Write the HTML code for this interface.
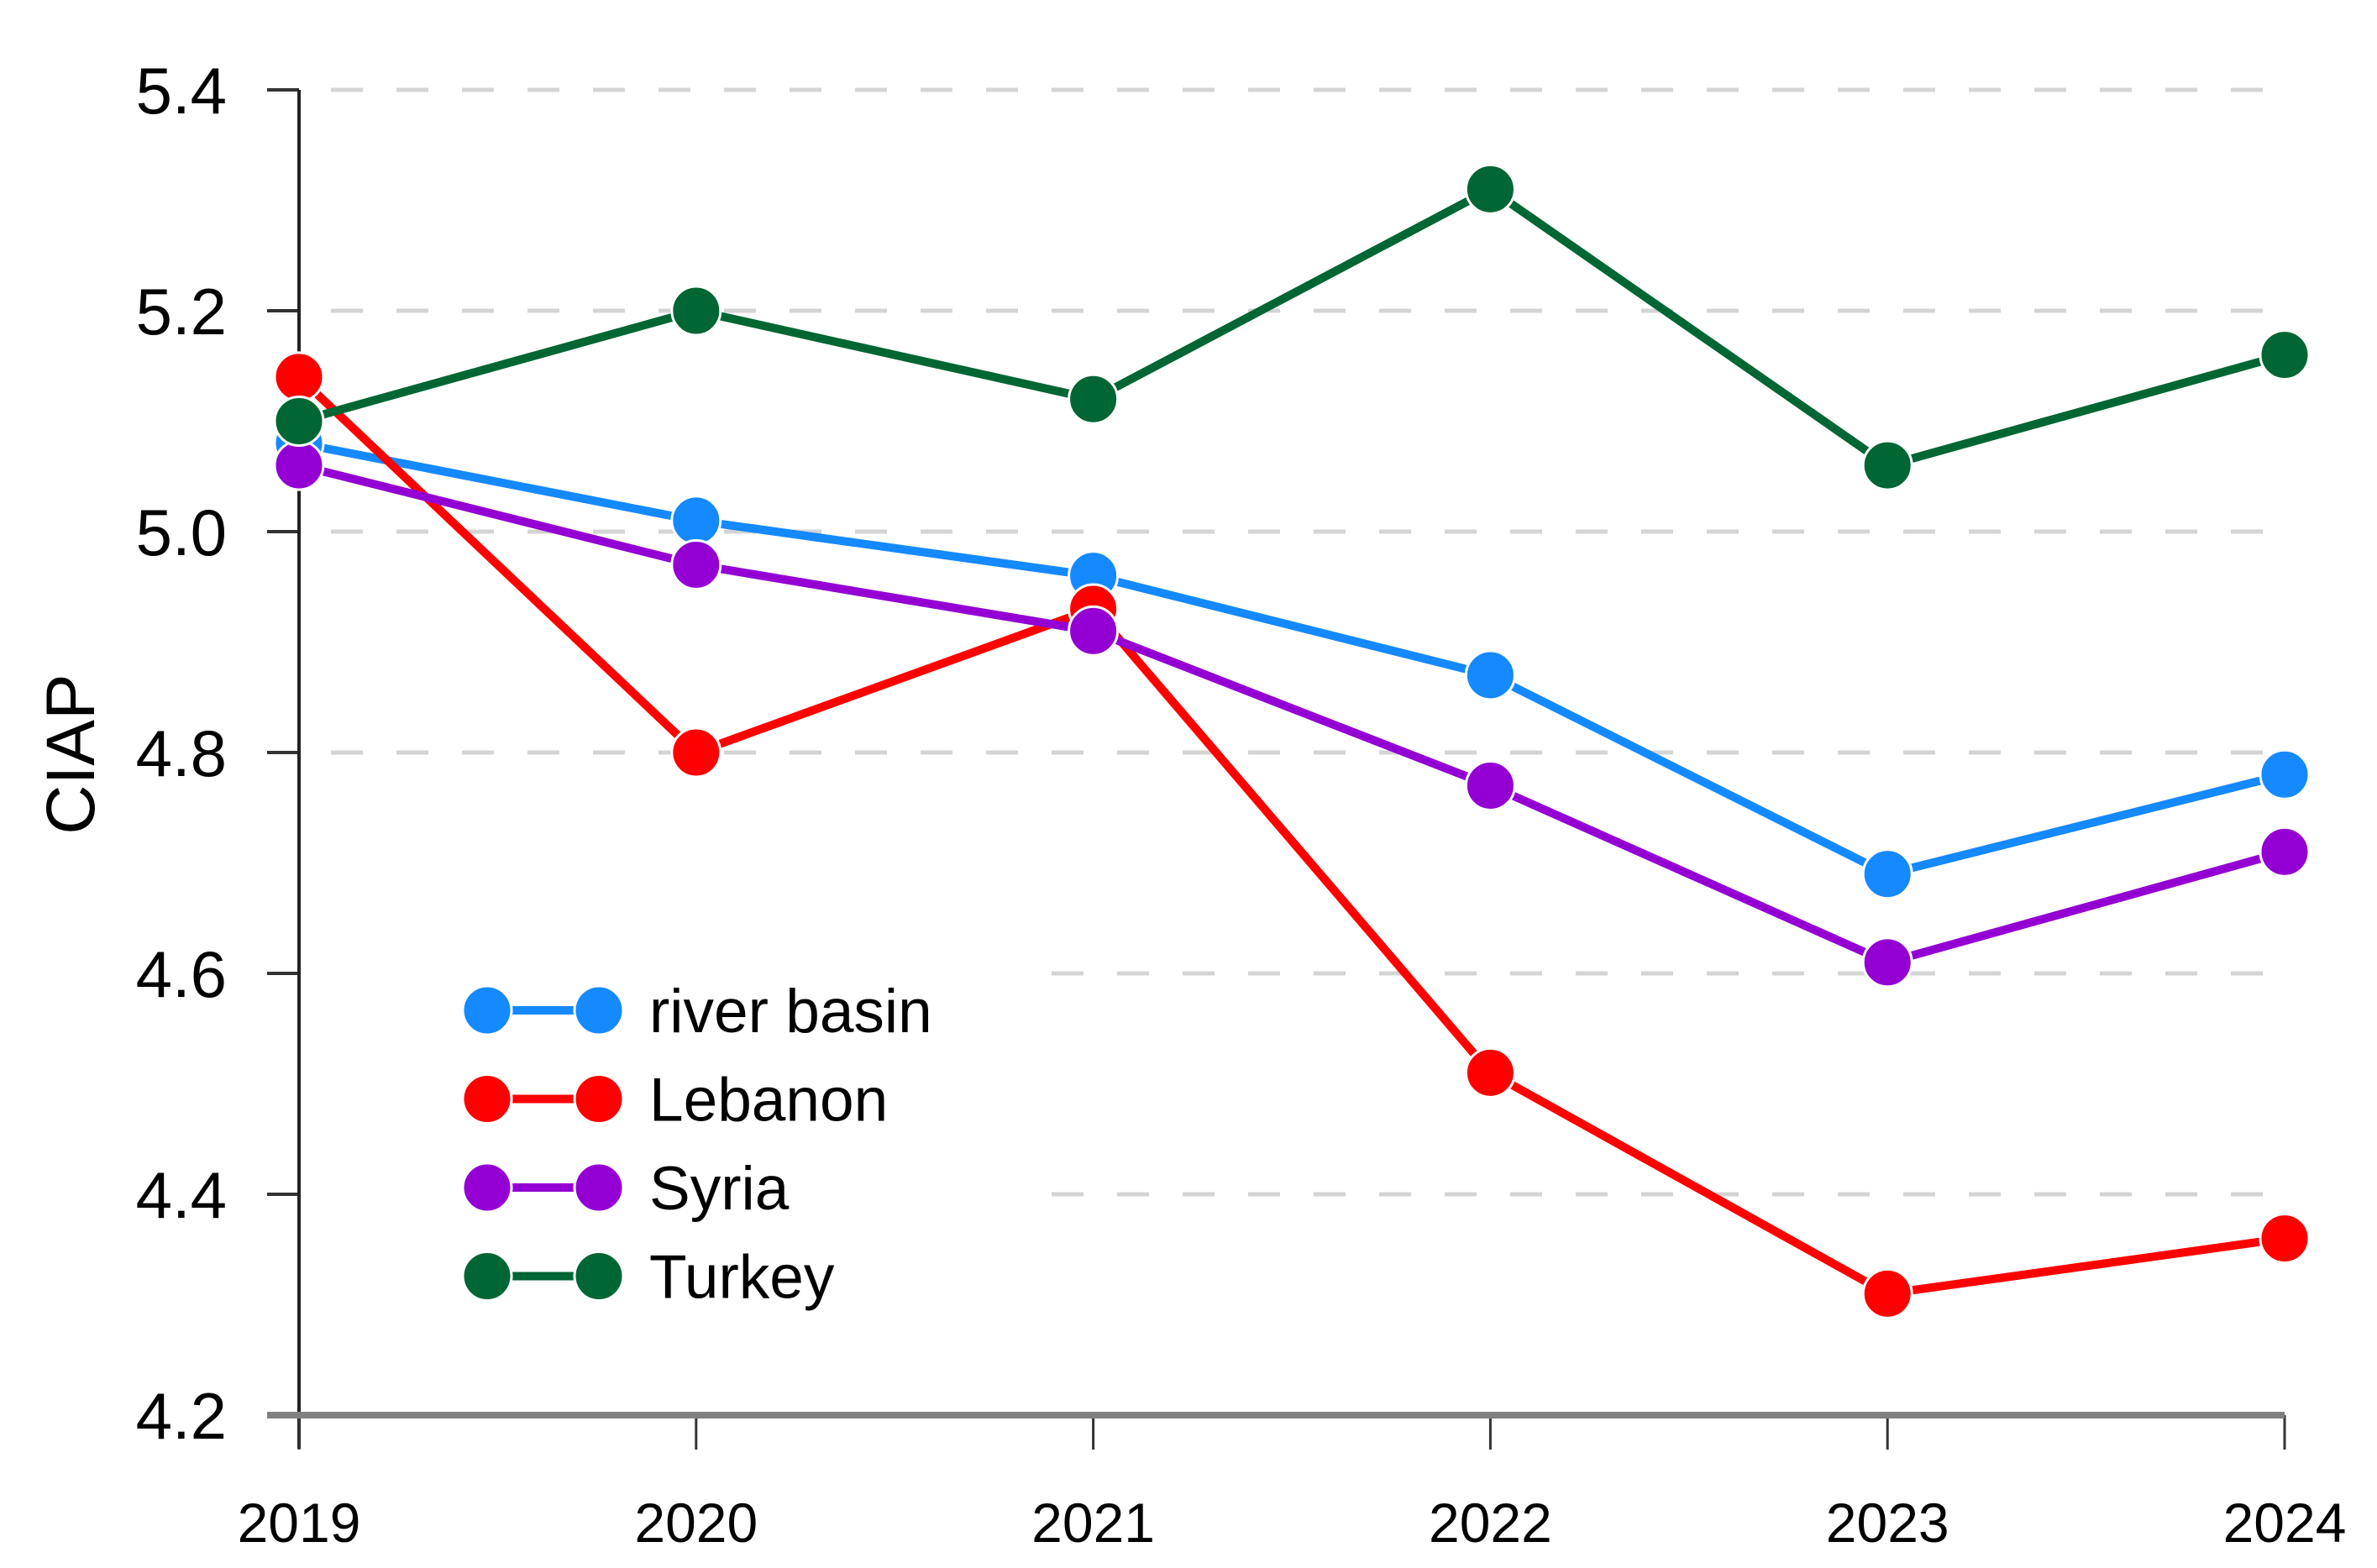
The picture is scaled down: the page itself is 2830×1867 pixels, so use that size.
<!DOCTYPE html>
<html><head><meta charset="utf-8"><style>
html,body{margin:0;padding:0;background:#fff;}
svg{display:block;font-family:"Liberation Sans",Arial,sans-serif;}
</style></head><body>
<svg id="chart" width="2830" height="1867" viewBox="0 0 2830 1867">
<g id="grid"></g>
<g id="axes"></g>
<g id="series"></g>
<g id="legend"></g>
<text x="0" y="0" transform="translate(112,898) rotate(-90)" text-anchor="middle" font-size="82" fill="#000">CIAP</text>
</svg>
<script>
const years = ["2019","2020","2021","2022","2023","2024"];
const yTicks = [4.2,4.4,4.6,4.8,5.0,5.2,5.4];
const seriesNames = ["river basin","Lebanon","Syria","Turkey"];
const seriesColors = ["#1589ff","#ff0000","#9400d3","#006633"];
const riverBasin = [5.08,5.01,4.96,4.87,4.69,4.78];
const lebanon = [5.14,4.80,4.93,4.51,4.31,4.36];
const syria = [5.06,4.97,4.91,4.77,4.61,4.71];
const turkey = [5.10,5.20,5.12,5.31,5.06,5.16];
const allSeries = [riverBasin,lebanon,syria,turkey];

const NS="http://www.w3.org/2000/svg";
const X0=356, X1=2720, Y0=1685, Y1=107, VMIN=4.2, VMAX=5.4;
function xs(i){return X0+(X1-X0)*i/(years.length-1);}
function ys(v){return Y0-(Y0-Y1)*(v-VMIN)/(VMAX-VMIN);}
function mk(tag,attrs,parent){const e=document.createElementNS(NS,tag);for(const k in attrs)e.setAttribute(k,attrs[k]);parent.appendChild(e);return e;}
const grid=document.getElementById('grid'),axes=document.getElementById('axes'),ser=document.getElementById('series'),leg=document.getElementById('legend');

yTicks.forEach(t=>{
  const y=ys(t);
  if(t>VMIN){
    const g=mk('line',{x1:X0,x2:X1+10,y1:y,y2:y,stroke:'#d4d4d4','stroke-width':5,'stroke-dasharray':'38 40','stroke-dashoffset':'-38'},grid);
    
    
  }
  const tk=mk('line',{x1:X0-38,x2:X0,y1:y,y2:y,stroke:'#333','stroke-width':4},axes);
  
  
  const lb=mk('text',{x:270,y:y+28,'text-anchor':'end','font-size':78,fill:'#000'},axes);
  lb.textContent=t.toFixed(1);
  
  
});
const ya=mk('line',{x1:X0,x2:X0,y1:Y1,y2:Y0+40,stroke:'#222','stroke-width':4},axes);


years.forEach((yr,i)=>{
  const x=xs(i);
  const tk=mk('line',{x1:x,x2:x,y1:Y0,y2:Y0+41,stroke:'#333','stroke-width':3},axes);
  
  
  const lb=mk('text',{x:x,y:1836,'text-anchor':'middle','font-size':66,fill:'#000'},axes);
  lb.textContent=yr;
  
  
});
const xa=mk('line',{x1:X0-38,x2:X1,y1:Y0,y2:Y0,stroke:'#808080','stroke-width':8},axes);



const lbg=mk('rect',{x:X0+4,y:1110,width:862,height:470,fill:'#fff'},grid);



allSeries.forEach((vals,s)=>{
  const col=seriesColors[s];
  const g=mk('g',{},ser);
  
  
  const pts=vals.map((v,i)=>xs(i)+','+ys(v)).join(' ');
  const pl=mk('polyline',{points:pts,fill:'none',stroke:col,'stroke-width':10,'stroke-linejoin':'round'},g);
  
  
  vals.forEach((v,i)=>{
    const c=mk('circle',{cx:xs(i),cy:ys(v),r:29,fill:col,stroke:'#fff','stroke-width':3},g);
    
    
  });
  const ly=1203+s*105.5;
  const lg=mk('g',{},leg);
  
  
  mk('line',{x1:580,x2:713,y1:ly,y2:ly,stroke:col,'stroke-width':10},lg);
  mk('circle',{cx:580,cy:ly,r:29,fill:col,stroke:'#fff','stroke-width':3},lg);
  mk('circle',{cx:713,cy:ly,r:29,fill:col,stroke:'#fff','stroke-width':3},lg);
  const t=mk('text',{x:773,y:ly+26,'font-size':73,fill:'#000'},lg);
  t.textContent=seriesNames[s];
});
</script>
</body></html>
